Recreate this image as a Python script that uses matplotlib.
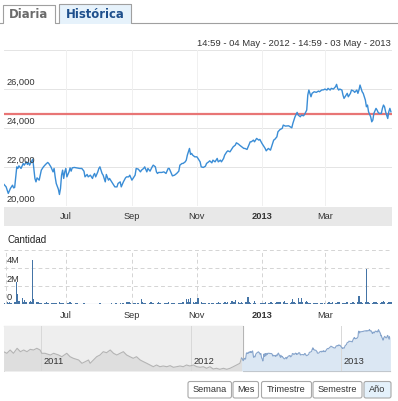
import datetime as dt
import matplotlib
matplotlib.use("Agg")
import matplotlib.pyplot as plt
import pandas as pd
from matplotlib.patches import Rectangle, FancyBboxPatch
from matplotlib.transforms import offset_copy

plt.rcParams['font.family'] = ['Liberation Sans', 'DejaVu Sans']

# ---------------- data ----------------
START = dt.date(2012, 5, 4)
END = dt.date(2013, 5, 3)
RANGE_TEXT = "14:59 - 04 May - 2012 - 14:59 - 03 May - 2013"
REF_LEVEL = 24718

price_days = [0, 2, 4, 6, 8, 9, 10, 12, 13, 14, 16, 17, 18, 19, 21, 22, 23, 24, 26, 27,
              28, 29, 30, 31, 33, 35, 37, 39, 41, 42, 44, 46, 47, 48, 49, 51, 52, 53, 54, 55,
              56, 57, 58, 59, 61, 62, 63, 64, 66, 68, 71, 73, 75, 76, 78, 79, 81, 83, 84, 85,
              86, 88, 89, 90,
              92, 93, 95, 96, 98, 99, 101, 103, 104, 106, 107, 109, 110, 112, 114, 115, 117, 118, 120, 121,
              123, 124, 126, 128, 129, 131, 132, 134, 135, 137, 139, 140, 142, 143, 144, 145, 148, 150, 152, 154,
              155, 157, 158, 160, 162, 164, 165, 167, 168, 170, 171, 172, 174, 175, 176, 177, 179,
              181, 182, 184, 185, 187, 189, 190, 192, 193, 195, 196, 198, 200, 201, 203, 204, 206, 207, 209, 210,
              212, 214, 215, 217, 218, 220, 221, 223, 225, 226, 228, 229, 231, 232, 234, 235, 237, 239, 240, 242,
              243, 245, 246, 248, 250, 251, 253, 254, 256, 257, 259, 261, 262, 264,
              267, 270, 271, 273, 275, 276, 278, 279, 281, 282, 284, 285, 286, 288, 289, 291, 293, 295, 296, 298,
              300, 301, 303, 304, 306, 307, 309, 311, 312, 313, 314, 315, 317, 318, 319, 321, 322, 323, 325, 326,
              328, 329, 331, 332, 333, 334, 336, 337, 339, 340, 341, 342, 344, 345, 346, 347, 349, 350, 351, 352,
              354, 355, 356, 357, 358, 360, 361, 362, 363]
price_vals = [21130, 21005, 20670, 20923, 21092, 20954, 20974, 22031, 21949, 22082,
              21949, 22082, 22205, 22118, 22287, 22154, 22256, 22118, 22323, 22426,
              21949, 21436, 21262, 21467, 21349, 21862, 22031, 22154, 22256, 22205,
              22031, 21774, 21949, 21518, 21180, 20887, 20615, 20923, 21605, 21862,
              21436, 21774, 21949, 21518, 21774, 21979, 21810, 21979, 22000, 21979,
              21949, 21949, 21810, 21518, 21641, 21518, 21605, 21436, 21605, 21692,
              21518, 21774, 21949, 22031,
              21692, 21605, 21262, 21641, 21349, 21436, 21262, 21092, 21005, 21005,
              21180, 21262, 21005, 21262, 21467, 21518, 21518, 21605, 21349, 21436,
              21605, 21949, 21913, 21774, 21862, 21949, 22031, 21774, 21949, 21810,
              22031, 22118, 22031, 21774, 21692, 21744, 21744, 21774, 21692, 21949,
              21949, 21692, 21569, 21605, 21692, 21810, 22118, 22205, 22205, 22287,
              22374, 22631, 22974, 22667, 22718, 22631, 22544,
              22544, 22462, 22287, 22031, 22000, 22067, 22205, 22287, 22338, 22236,
              22374, 22287, 22462, 22287, 22374, 22287, 22462, 22631, 22800, 22851,
              22800, 22974, 23056, 23144, 23262, 23195, 23144, 23056, 22974, 22974,
              22923, 23056, 23313, 23313, 23400, 23313, 23487, 23400, 23436, 23231,
              23144, 22974, 22851, 22974, 22887, 23056, 23400, 23436, 23569, 23826,
              23944, 24000, 24169, 24118,
              24133, 24031, 24256, 24595, 24821, 24682, 24595, 24682, 24646, 24718,
              24938, 25708, 25964, 25620, 25795, 25877, 25846, 25913, 25877, 25964,
              25979, 26015, 25964, 26051, 25964, 26051, 26015, 26133, 26256, 26051,
              25964, 26015, 25964, 25708, 25538, 25708, 25795, 25620, 25795, 25964,
              25913, 25846, 25964, 25795, 25964, 26220, 25877, 25795, 25451, 25108,
              25195, 24851, 24595, 24338, 24426, 24769, 25026, 24938, 24821, 24769,
              24769, 25026, 25195, 25108, 24851, 24508, 24851, 25026, 24851]

# daily traded quantity (millions), one value per trading day from START to END
vol_vals = [0.15, 0.2, 0.15, 0.2, 0.12, 0.18, 0.2, 0.25, 2.48, 1.13, 0.35, 0.66, 0.3, 0.47, 0.3, 0.2, 0.29, 0.4, 0.25, 4.87,
            0.55, 0.3, 0.2, 0.15, 0.12, 0.18, 0.1, 0.15, 0.2, 0.12, 0.1, 0.15, 0.18, 0.12, 0.1, 0.15, 0.2, 0.1, 0.12, 0.15,
            0.1, 0.08, 0.12, 0.15, 0.2, 0.1, 0.08, 0.12, 0.1, 0.15, 0.06, 0.05, 0.08, 0.1, 0.06, 0.05, 0.04, 0.06, 0.05, 0.08,
            0.05, 0.04, 0.06, 0.05, 0.1, 0.05, 0.04, 0.06, 0.08, 0.05, 0.06, 0.12, 0.05, 0.04, 0.08, 0.1, 0.06, 0.15, 0.08, 0.1,
            0.12, 0.2, 0.25, 0.3, 0.28, 0.15, 0.1, 0.12, 0.08, 0.1, 0.15, 0.58, 0.2, 0.15, 0.1, 0.12, 0.08, 0.15, 0.25, 0.1,
            0.12, 0.08, 0.15, 0.3, 0.12, 0.1, 0.08, 0.12, 0.15, 0.1, 0.2, 0.12, 0.1, 0.15, 0.12, 0.08, 0.1, 0.15, 0.1, 0.12,
            0.2, 0.6, 0.25, 0.55, 0.3, 0.66, 0.2, 0.15, 0.25, 0.3, 0.73, 0.2, 0.15, 0.12, 0.1, 0.15, 0.12, 0.1, 0.08, 0.12,
            0.1, 0.15, 0.12, 0.2, 0.15, 0.1, 0.12, 0.3, 0.25, 0.15, 0.2, 0.12, 0.35, 0.3, 0.2, 0.48, 0.25, 0.15, 0.12, 0.2,
            0.15, 0.3, 0.2, 0.84, 0.3, 0.15, 0.12, 0.37, 0.1, 0.08, 0.05, 0.1, 0.12, 0.15, 0.1, 0.2, 0.15, 0.12, 0.25, 0.2,
            0.15, 0.1, 0.2, 0.3, 0.15, 0.25, 0.2, 0.37, 0.15, 0.1, 0.12, 0.15, 0.3, 0.55, 0.2, 0.15, 0.73, 0.3, 0.25, 0.66,
            0.3, 0.2, 0.37, 0.2, 0.15, 0.12, 0.15, 0.1, 0.12, 0.15, 0.1, 0.12, 0.15, 0.1, 0.08, 0.12, 0.15, 0.2, 0.1, 0.12,
            0.2, 0.15, 0.1, 0.25, 0.2, 0.3, 0.15, 0.1, 0.12, 0.2, 0.25, 0.15, 0.1, 0.2, 0.3, 0.15, 0.2, 0.95, 0.3, 0.2,
            0.15, 0.25, 3.88, 0.3, 0.2, 0.15, 0.12, 0.2, 0.3, 0.2, 0.15, 0.1, 0.2, 0.25, 0.37, 0.2, 0.15, 0.3, 0.25, 0.2, 0.15]

NAV_START = dt.date(2010, 10, 3)
NAV_END = dt.date(2013, 5, 1)
NAV_BASE = dt.date(2011, 1, 1)
nav_days = [-91, -83, -75, -67, -58, -50, -42, -34, -26, -18, -10, -2, 2, 10, 23, 31, 43, 51, 63, 71,
            79, 92, 100, 108, 116, 120, 128, 136, 144, 152, 160, 169, 177, 185, 193, 201, 209, 217, 225, 233,
            242, 250, 258, 266, 274, 282, 290, 298, 307, 315, 323, 331, 339, 347, 355, 363, 372, 380, 388, 396,
            404, 412, 420, 428, 436, 445, 453, 461, 469, 477, 485]
nav_vals = [22278, 21992, 22582, 21992, 22887, 22278, 22582, 22278, 22700, 22582, 22887, 22582, 21992, 21992, 21687, 21992, 21687, 21383, 21992, 21383,
            21097, 20792, 20202, 20488, 20792, 20202, 20792, 21383, 21687, 22278, 22099, 22582, 21992, 21687, 21992, 22278, 21687, 21383, 21097, 21383,
            20792, 20488, 20202, 19897, 19593, 19897, 19593, 19718, 19593, 19780, 19486, 19593, 19718, 19593, 19897, 19718, 19897, 19593, 19486, 19593,
            19307, 19593, 19181, 19307, 19128, 19307, 19128, 19307, 19593, 19897, 20202]

main_ticks = [dt.date(2012, 7, 1), dt.date(2012, 9, 1), dt.date(2012, 11, 1), dt.date(2013, 1, 1), dt.date(2013, 3, 1)]
main_tick_labels = ["Jul", "Sep", "Nov", "2013", "Mar"]
price_grid = [20000, 22000, 24000, 26000, 28000]
price_labels = ["20,000", "22,000", "24,000", "26,000"]
vol_grid = [0, 2e6, 4e6, 6e6]
vol_labels = ["0", "2M", "4M"]
nav_years = [dt.date(2011, 1, 1), dt.date(2012, 1, 1), dt.date(2013, 1, 1)]
nav_year_labels = ["2011", "2012", "2013"]
buttons = ["Semana", "Mes", "Trimestre", "Semestre", "Año"]

# ---------------- figure ----------------
W, H = 398, 401
fig = plt.figure(figsize=(W / 100, H / 100), dpi=100)


def px_axes(x0, y0, x1, y1, **kw):
    return fig.add_axes([x0 / W, 1 - y1 / H, (x1 - x0) / W, (y1 - y0) / H], **kw)


bg = px_axes(0, 0, W, H)
bg.set_xlim(0, W)
bg.set_ylim(H, 0)
bg.axis('off')

TXT = '#333333'
FS = 6.7

# tabs
bg.plot([0, 3, 3, 55, 55, 59, 59, 131, 131, 398], [23.3, 23.3, 5, 5, 23.3, 23.3, 4, 4, 23.3, 23.3],
        color='#a0a0a0', lw=0.8)
bg.add_patch(Rectangle((59.4, 4.4), 71.2, 19.2, fc='#e6f2fb', ec='none', zorder=0))
bg.text(29, 14.5, "Diaria", ha='center', va='center', fontsize=8.4, fontweight='bold',
        color='#6b6b6b', family='DejaVu Sans')
bg.text(95, 14.2, "Histórica", ha='center', va='center', fontsize=8.4, fontweight='bold',
        color='#1e4f8c', family='DejaVu Sans')

bg.text(391, 43.5, RANGE_TEXT, ha='right', va='center', fontsize=6.8, color=TXT)

# ---------------- price panel ----------------
price_dates = [START + dt.timedelta(days=d) for d in price_days]
ax = px_axes(4, 50.3, 392, 206.5)
ax.set_xlim(START, END)
ax.set_ylim(20000, 28000)
for v in price_grid:
    ax.axhline(v, color='#e4e4e4', lw=0.7, zorder=0)
for d in main_ticks:
    ax.axvline(d, color='#f0f0f0', lw=0.7, zorder=0)
ax.axhline(REF_LEVEL, color='#e87575', lw=1.6, zorder=2)
ax.plot(price_dates, price_vals, color='#3a8dd6', lw=1.0, zorder=3)
ax.axis('off')
tr = offset_copy(ax.get_yaxis_transform(), fig=fig, x=3, y=7, units='dots')
for v, lab in zip(price_grid, price_labels):
    ax.text(0, v, lab, transform=tr, ha='left', va='center', fontsize=FS, color=TXT, zorder=4)

band = px_axes(4, 206.7, 392, 225.7)
band.set_facecolor('#e8e8e8')
band.set_xlim(START, END)
band.set_ylim(0, 1)
band.set_xticks([])
band.set_yticks([])
for s in band.spines.values():
    s.set_visible(False)
for d, lab in zip(main_ticks, main_tick_labels):
    band.text(d, 0.5, lab, ha='center', va='center', fontsize=FS, color=TXT,
              fontweight='bold' if lab == '2013' else 'normal')

# ---------------- volume panel ----------------
bg.text(7, 240, "Cantidad", ha='left', va='center', fontsize=7.1, color='#222222')
vol_dates = pd.bdate_range(START, END)
vax = px_axes(4, 249.7, 392, 304.3)
vax.set_xlim(START, END)
vax.set_ylim(0, 6e6)
for v in vol_grid[1:]:
    vax.axhline(v, color='#d4d4d4', lw=0.7, ls=(0, (4, 3)), zorder=0)
for d in main_ticks:
    vax.axvline(d, color='#d4d4d4', lw=0.7, ls=(0, (4, 3)), zorder=0)
vax.axvline(START + dt.timedelta(days=2), color='#d4d4d4', lw=0.7, ls=(0, (4, 3)), zorder=0)
n = min(len(vol_dates), len(vol_vals))
vax.bar(vol_dates[:n], [v * 1e6 for v in vol_vals[:n]], width=1.15, color='#4474a6', lw=0, zorder=2)
vax.axhline(0, color='#8fa3b8', lw=0.8, zorder=3)
vax.axis('off')
tr = offset_copy(vax.get_yaxis_transform(), fig=fig, x=3, y=7, units='dots')
for v, lab in zip(vol_grid, vol_labels):
    vax.text(0, v, lab, transform=tr, ha='left', va='center', fontsize=FS, color=TXT, zorder=4)
tr = offset_copy(vax.get_xaxis_transform(), fig=fig, x=0, y=-11, units='dots')
for d, lab in zip(main_ticks, main_tick_labels):
    vax.text(d, 0, lab, transform=tr, ha='center', va='center', fontsize=FS, color=TXT,
             fontweight='bold' if lab == '2013' else 'normal')

# ---------------- navigator ----------------
nav = px_axes(4, 325.7, 390, 371)
nav.set_xlim(NAV_START, NAV_END)
nav.set_ylim(18823, 26932)
nav_dates = [NAV_BASE + dt.timedelta(days=d) for d in nav_days]
left_x = nav_dates + [START]
left_y = nav_vals + [price_vals[0]]
nav.axvspan(NAV_START, START, color='#eeeeee', zorder=0)
nav.fill_between(left_x, left_y, 18823, color='#dedede', lw=0, zorder=1)
nav.plot(left_x, left_y, color='#b4b4b4', lw=0.8, zorder=2)
nav.fill_between(price_dates, price_vals, 18823, color='#dbe7f3', lw=0, zorder=1)
nav.plot(price_dates, price_vals, color='#87a5cc', lw=0.8, zorder=2)
for d in nav_years:
    nav.axvline(d, color='#d8d8d8', lw=0.7, zorder=1.5)
tr = offset_copy(nav.get_xaxis_transform(), fig=fig, x=3, y=5, units='dots')
for d, lab in zip(nav_years, nav_year_labels):
    nav.text(d, 0, lab, transform=tr, ha='left', va='bottom', fontsize=FS, color=TXT, zorder=4)
nav.axis('off')
# outline
bg.plot([4, 243, 243, 390], [325.9, 325.9, 370.8, 370.8], color='#a8a8a8', lw=0.8)
bg.plot([4, 4], [325.9, 370.8], color='#cccccc', lw=0.6)

# ---------------- buttons ----------------
btn_x = [(188, 231.5), (233, 258.5), (261.5, 311.5), (313, 362), (364, 391)]
for (x0, x1), lab in zip(btn_x, buttons):
    fc = '#e4f1fb' if lab == 'Año' else 'white'
    bg.add_patch(FancyBboxPatch((x0, 381.5), x1 - x0, 16.5, boxstyle='round,pad=0,rounding_size=2',
                                fc=fc, ec='#a8a8a8', lw=0.8))
    bg.text((x0 + x1) / 2, 390, lab, ha='center', va='center', fontsize=6.6, color=TXT)

fig.savefig('out.png', dpi=100)
